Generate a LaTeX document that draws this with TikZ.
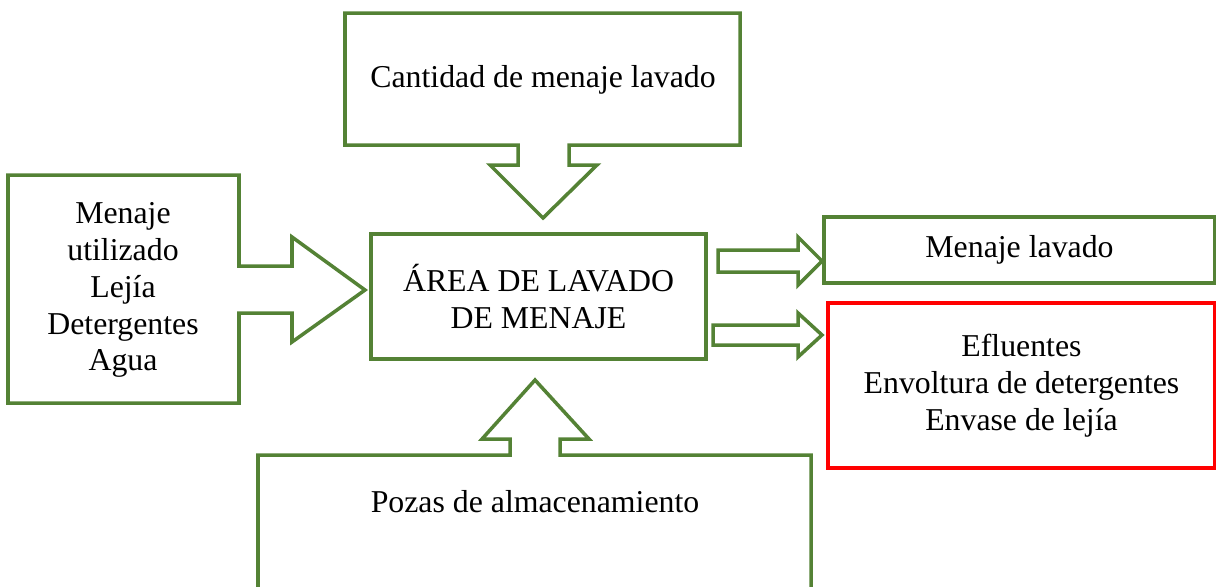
\documentclass[tikz,border=0pt]{standalone}
\usepackage{fontspec}
\setmainfont{Liberation Serif}
\usepackage{xcolor}
\usetikzlibrary{positioning}

\definecolor{verde}{HTML}{548235}
\definecolor{rojo}{HTML}{FF0000}

\tikzset{
  bloque/.style={draw=verde, line width=2pt, line join=miter},
  texto/.style={align=center, font=\fontsize{18.1}{21}\selectfont, inner sep=0pt},
}

\begin{document}
\begin{tikzpicture}[x=0.02cm, y=-0.02cm]

        \useasboundingbox (0,0) rectangle (1216,586);

        % Shapes
        \draw[bloque] (345,13) -- (740,13) -- (740,145) -- (569,145) -- (569,165) -- (597,165)
              -- (543,218) -- (490,165) -- (518,165) -- (518,145) -- (345,145) -- cycle;
        \draw[bloque] (8,175) -- (239,175) -- (239,266) -- (292,266) -- (292,237) -- (365,290)
              -- (292,342) -- (292,313) -- (239,313) -- (239,403) -- (8,403) -- cycle;
        \draw[bloque] (258,600) -- (258,455) -- (510,455) -- (510,439) -- (482,439) -- (535,380)
              -- (589,439) -- (560,439) -- (560,455) -- (811,455) -- (811,600);

        % Nodes
        \node[texto] (cantidad) at (543,80) {Cantidad de menaje lavado};
        \node[texto] (insumos) at (123,290) {Menaje\\utilizado\\Lejía\\Detergentes\\Agua};
        \node[texto, draw=verde, line width=2pt, minimum width=335*0.02cm, minimum height=125*0.02cm]
              (area) at (538.5,296.5) {ÁREA DE LAVADO\\DE MENAJE};
        \node[texto] (pozas) at (535,502) {Pozas de almacenamiento};
        \node[texto, draw=verde, line width=2pt, minimum width=391*0.02cm, minimum height=66*0.02cm]
              (lavado) at (1019.5,250) {Menaje lavado};
        \node[texto, draw=rojo, line width=2pt, minimum width=387*0.02cm, minimum height=165*0.02cm]
              (residuos) at (1021.5,385.5) {Efluentes\\Envoltura de detergentes\\Envase de lejía};

        % Arrows
        \draw[bloque] (718,250) -- (798,250) -- (798,237) -- (822,261) -- (798,285) -- (798,272)
              -- (718,272) -- cycle;
        \draw[bloque] (713,325) -- (798,325) -- (798,313) -- (822,335) -- (798,357) -- (798,345)
              -- (713,345) -- cycle;

    \end{tikzpicture}
\end{document}
